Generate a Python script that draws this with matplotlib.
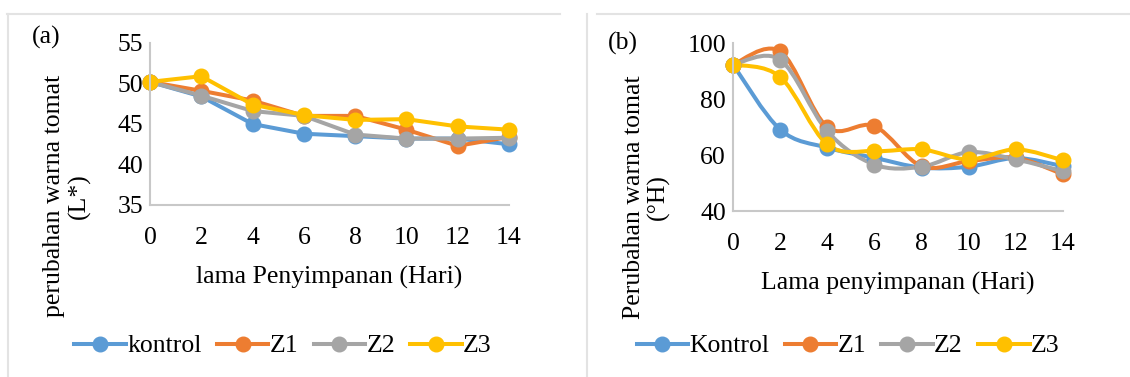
import matplotlib.pyplot as plt
import numpy as np
from matplotlib.path import Path
from matplotlib.patches import PathPatch
from matplotlib.lines import Line2D

plt.rcParams['font.family'] = ['Liberation Serif', 'DejaVu Serif']

# data
hari = [0, 2, 4, 6, 8, 10, 12, 14]
names_a = ['kontrol', 'Z1', 'Z2', 'Z3']
names_b = ['Kontrol', 'Z1', 'Z2', 'Z3']
colors = ['#5B9BD5', '#ED7D31', '#A5A5A5', '#FFC000']

L_kontrol = [50.2, 48.4, 45.0, 43.8, 43.5, 43.2, 43.2, 42.5]
L_z1 = [50.2, 49.1, 47.9, 46.0, 46.0, 44.3, 42.3, 43.4]
L_z2 = [50.2, 48.5, 46.6, 46.0, 43.7, 43.2, 43.2, 43.3]
L_z3 = [50.2, 50.9, 47.4, 46.1, 45.5, 45.6, 44.7, 44.3]

H_kontrol = [92.3, 69.1, 62.6, 59.0, 55.5, 55.8, 58.9, 56.0]
H_z1 = [92.3, 97.0, 70.0, 70.3, 56.0, 57.8, 59.0, 53.1]
H_z2 = [92.3, 94.0, 68.5, 56.6, 55.8, 61.0, 58.4, 54.2]
H_z3 = [92.3, 87.9, 63.8, 61.4, 62.0, 58.4, 62.0, 58.1]

FS = 18.5
LW = 2.9
MS = 10.5

fig = plt.figure(figsize=(11.3, 3.77), dpi=100)

# light frame lines like the source document
fig.add_artist(Line2D([7/1130, 560/1130], [1-14/377, 1-14/377], color='#e3e3e3', lw=1.5))
fig.add_artist(Line2D([8/1130, 8/1130], [0, 1-14/377], color='#e3e3e3', lw=1.5))
fig.add_artist(Line2D([597/1130, 1], [1-14/377, 1-14/377], color='#e3e3e3', lw=1.5))
fig.add_artist(Line2D([587/1130, 587/1130], [0, 1-14/377], color='#e3e3e3', lw=1.5))


def smooth_line(ax, x, y, color):
    # excel-style smoothed line: bezier through the points
    p = np.column_stack([x, y]).astype(float)
    pp = np.vstack([p[0], p, p[-1]])
    verts = [tuple(p[0])]
    codes = [Path.MOVETO]
    for i in range(len(p) - 1):
        c1 = pp[i+1] + (pp[i+2] - pp[i]) / 6
        c2 = pp[i+2] - (pp[i+3] - pp[i+1]) / 6
        verts += [tuple(c1), tuple(c2), tuple(p[i+1])]
        codes += [Path.CURVE4] * 3
    ax.add_patch(PathPatch(Path(verts, codes), fill=False, edgecolor=color,
                           lw=LW, clip_on=False, capstyle='round', joinstyle='round'))


def style(ax):
    for s in ['top', 'right']:
        ax.spines[s].set_visible(False)
    for s in ['left', 'bottom']:
        ax.spines[s].set_color('#c8c8c8')
        ax.spines[s].set_linewidth(1.5)
    ax.tick_params(length=0, labelsize=FS)
    ax.tick_params(axis='x', pad=16)
    ax.tick_params(axis='y', pad=5)
    ax.set_xticks(hari)
    ax.set_xlim(0, 14)


leg_kw = dict(loc='center', bbox_transform=fig.transFigure, ncol=4, frameon=False,
              fontsize=FS, handlelength=2.0, handletextpad=0.05,
              columnspacing=0.6, borderaxespad=0)

# (a)
ax1 = fig.add_axes([150/1130, 1-205/377, 359/1130, 162/377])
for vals, c, n in zip([L_kontrol, L_z1, L_z2, L_z3], colors, names_a):
    ax1.plot(hari, vals, color=c, lw=LW, marker='o', ms=MS, label=n, clip_on=False)
ax1.set_ylim(35, 55)
ax1.set_yticks([35, 40, 45, 50, 55])
style(ax1)
ax1.set_xlabel('lama Penyimpanan (Hari)', fontsize=FS, labelpad=12)
ax1.set_ylabel('perubahan warna tomat\n(L*)', fontsize=FS, linespacing=1.15)
ax1.yaxis.set_label_coords(-0.165, 0.056)
fig.text(32/1130, 1-37/377, '(a)', fontsize=FS, va='center')
ax1.legend(bbox_to_anchor=(283/1130, 1-346/377), **leg_kw)

# (b)
ax2 = fig.add_axes([733/1130, 1-211/377, 330/1130, 168/377])
for vals, c, n in zip([H_kontrol, H_z1, H_z2, H_z3], colors, names_b):
    smooth_line(ax2, hari, vals, c)
    ax2.plot(hari, vals, color=c, lw=LW, marker='o', ms=MS, ls='none', clip_on=False)
    ax2.plot([], [], color=c, lw=LW, marker='o', ms=MS, label=n)
ax2.set_ylim(40, 100)
ax2.set_yticks([40, 60, 80, 100])
style(ax2)
ax2.set_xlabel('Lama penyimpanan (Hari)', fontsize=FS, labelpad=12)
ax2.set_ylabel('Perubahan warna tomat\n(°H)', fontsize=FS, linespacing=1.15)
ax2.yaxis.set_label_coords(-0.19, 0.083)
fig.text(608/1130, 1-43/377, '(b)', fontsize=FS, va='center')
ax2.legend(bbox_to_anchor=(848/1130, 1-346/377), **leg_kw)

plt.savefig('out.png', dpi=100)
